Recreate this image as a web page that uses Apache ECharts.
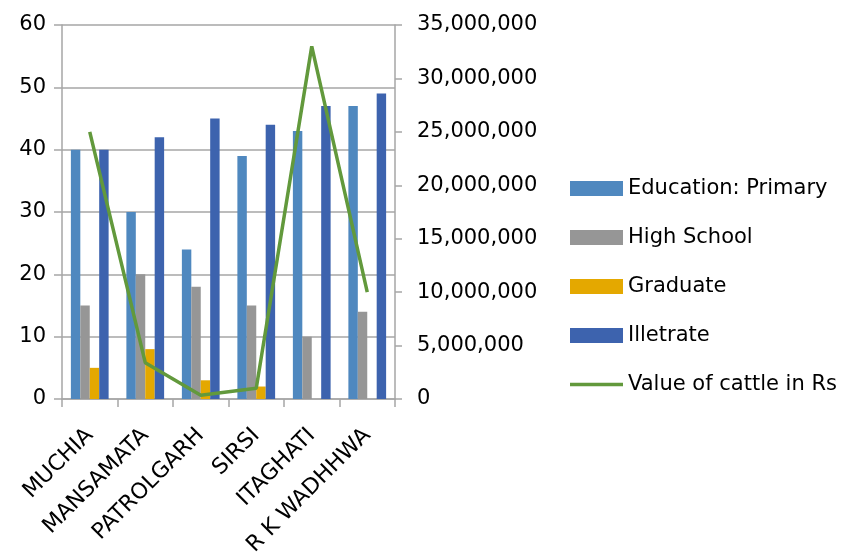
<!DOCTYPE html>
<html>
<head>
<meta charset="utf-8">
<script src="https://cdn.jsdelivr.net/npm/echarts@6/dist/echarts.min.js"></script>
<style>
  html, body { margin: 0; padding: 0; background: #fff; }
  #chart { width: 846px; height: 552px; }
</style>
</head>
<body>
<div id="chart"></div>
<script>
// Villages on the category axis
const villages = ['MUCHIA', 'MANSAMATA', 'PATROLGARH', 'SIRSI', 'ITAGHATI', 'R K WADHHWA'];

// Education counts (left axis)
const primary = [40, 30, 24, 39, 43, 47];
const highSchool = [15, 20, 18, 15, 10, 14];
const graduate = [5, 8, 3, 2, 0, 0];
const illiterate = [40, 42, 45, 44, 47, 49];

// Value of cattle in rupees (right axis)
const cattleValue = [25000000, 3400000, 350000, 1000000, 33000000, 10000000];

const FONT = 'DejaVu Sans';
const AXIS_GRAY = '#A6A6A6';
const C_PRIMARY = '#4F88BF';
const C_HIGH = '#969696';
const C_GRAD = '#E4A800';
const C_ILLIT = '#3D63AE';
const C_CATTLE = '#62993C';

const chart = echarts.init(document.getElementById('chart'), null, { renderer: 'canvas' });

const fmtThousands = v => String(v).replace(/\B(?=(\d{3})+(?!\d))/g, ',');

chart.setOption({
  animation: false,
  textStyle: { fontFamily: FONT, color: '#000' },
  grid: { left: 62, right: 451, top: 25, bottom: 153, containLabel: false, outerBoundsMode: 'none' },
  legend: {
    orient: 'vertical',
    left: 570,
    top: 178,
    padding: 0,
    itemWidth: 53,
    itemHeight: 15,
    itemGap: 28,
    textStyle: { fontFamily: FONT, fontSize: 21, color: '#000' },
    data: [
      { name: 'Education: Primary', icon: 'rect' },
      { name: 'High School', icon: 'rect' },
      { name: 'Graduate', icon: 'rect' },
      { name: 'Illetrate', icon: 'rect' },
      { name: 'Value of cattle in Rs', icon: 'path://M0,0 L53,0 L53,3.5 L0,3.5 Z',
        itemStyle: { color: C_CATTLE } }
    ]
  },
  xAxis: {
    type: 'category',
    data: villages,
    axisLine: { lineStyle: { color: AXIS_GRAY, width: 1.5 } },
    axisTick: { show: true, alignWithLabel: false, length: 8, lineStyle: { color: AXIS_GRAY, width: 1.5 } },
    axisLabel: { rotate: 45, fontSize: 22, color: '#000', fontFamily: FONT, margin: 33, interval: 0 }
  },
  yAxis: [
    {
      type: 'value',
      min: 0, max: 60, interval: 10,
      axisLine: { show: true, lineStyle: { color: AXIS_GRAY, width: 1.5 } },
      axisTick: { show: true, length: 8, lineStyle: { color: AXIS_GRAY, width: 1.5 } },
      splitLine: { show: true, lineStyle: { color: AXIS_GRAY, width: 1.5 } },
      axisLabel: { fontSize: 21, color: '#000', fontFamily: FONT, margin: 16 }
    },
    {
      type: 'value',
      min: 0, max: 35000000, interval: 5000000,
      position: 'right',
      axisLine: { show: true, lineStyle: { color: AXIS_GRAY, width: 1.5 } },
      axisTick: { show: true, length: 7, lineStyle: { color: AXIS_GRAY, width: 1.5 } },
      splitLine: { show: false },
      axisLabel: { fontSize: 21, color: '#000', fontFamily: FONT, margin: 22, formatter: fmtThousands }
    }
  ],
  series: [
    { name: 'Education: Primary', type: 'bar', data: primary, barGap: '0%', barCategoryGap: '32%',
      itemStyle: { color: C_PRIMARY } },
    { name: 'High School', type: 'bar', data: highSchool, itemStyle: { color: C_HIGH } },
    { name: 'Graduate', type: 'bar', data: graduate, itemStyle: { color: C_GRAD } },
    { name: 'Illetrate', type: 'bar', data: illiterate, itemStyle: { color: C_ILLIT } },
    { name: 'Value of cattle in Rs', type: 'line', yAxisIndex: 1, data: cattleValue,
      symbol: 'none', lineStyle: { color: C_CATTLE, width: 3.5 }, itemStyle: { color: C_CATTLE } }
  ]
});
</script>
</body>
</html>
